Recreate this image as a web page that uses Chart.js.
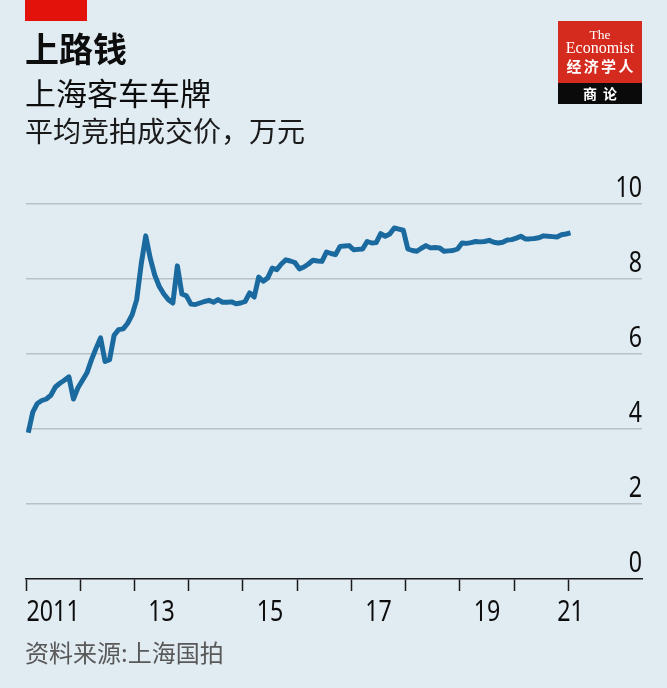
<!DOCTYPE html>
<html>
<head>
<meta charset="utf-8">
<script src="https://cdn.jsdelivr.net/npm/chart.js@4.4.1/dist/chart.umd.min.js"></script>
<style>
html,body{margin:0;padding:0;background:#e0ebf2;}
canvas{display:block;}
</style>
</head>
<body>
<canvas id="c" width="667" height="688"></canvas>
<script>
// ---- text ----
const titleText = '上路钱';
const subtitleText = '上海客车车牌';
const unitText = '平均竞拍成交价，万元';
const sourceText = '资料来源:上海国拍';

// ---- data: average auction price of Shanghai car plates, 10k yuan, monthly ----
const years = [2011, 2012, 2013, 2014, 2015, 2016, 2017, 2018, 2019, 2020, 2021];
const price2011 = [3.90, 4.45, 4.68, 4.76, 4.80, 4.90, 5.12, 5.22, 5.30, 5.39, 4.80, 5.10];
const price2012 = [5.30, 5.50, 5.85, 6.15, 6.43, 5.80, 5.85, 6.50, 6.65, 6.67, 6.82, 7.05];
const price2013 = [7.45, 8.40, 9.15, 8.55, 8.10, 7.80, 7.60, 7.45, 7.36, 8.35, 7.60, 7.55];
const price2014 = [7.33, 7.32, 7.36, 7.40, 7.43, 7.38, 7.45, 7.38, 7.38, 7.39, 7.34, 7.36];
const price2015 = [7.40, 7.63, 7.52, 8.05, 7.94, 8.03, 8.29, 8.25, 8.40, 8.51, 8.48, 8.44];
const price2016 = [8.27, 8.32, 8.40, 8.50, 8.48, 8.47, 8.72, 8.68, 8.65, 8.87, 8.88, 8.89];
const price2017 = [8.78, 8.79, 8.80, 9.00, 8.96, 8.97, 9.21, 9.14, 9.20, 9.36, 9.33, 9.30];
const price2018 = [8.80, 8.76, 8.74, 8.82, 8.89, 8.83, 8.84, 8.83, 8.74, 8.75, 8.76, 8.80];
const price2019 = [8.96, 8.95, 8.97, 9.00, 8.99, 9.00, 9.03, 8.98, 8.96, 8.98, 9.04, 9.05];
const price2020 = [9.09, 9.14, 9.07, 9.07, 9.08, 9.10, 9.15, 9.14, 9.13, 9.12, 9.18, 9.20];
const price2021 = [9.23];

// ---- axes ----
const yTickValues = [0, 2, 4, 6, 8, 10];
const xTickYears = [2011, 2012, 2013, 2014, 2015, 2016, 2017, 2018, 2019, 2020, 2021];
const xLabelTexts = ['2011', '13', '15', '17', '19', '21'];
const xLabelYears = [2011, 2013, 2015, 2017, 2019, 2021];

// ---- build points (mid-month positions) ----
const priceByYear = [price2011, price2012, price2013, price2014, price2015, price2016,
                     price2017, price2018, price2019, price2020, price2021];
const points = [];
priceByYear.forEach((arr, i) => {
  arr.forEach((v, m) => points.push({ x: years[i] + (m + 0.5) / 12, y: v }));
});

const BG = '#e0ebf2';
const NUM_FONT = '29px "Noto Sans", "Liberation Sans", sans-serif';
const NUM_SQUEEZE = 0.8;
const CJK = '"Noto Sans CJK SC", "Noto Sans", sans-serif';

function squeezedText(ctx, text, x, y, align) {
  ctx.save();
  ctx.translate(x, y);
  ctx.scale(NUM_SQUEEZE, 1);
  ctx.textAlign = align;
  ctx.fillText(text, 0, 0);
  ctx.restore();
}

const deco = {
  id: 'deco',
  beforeDraw(chart) {
    const ctx = chart.ctx;
    ctx.save();
    ctx.fillStyle = BG;
    ctx.fillRect(0, 0, chart.width, chart.height);
    ctx.restore();
  },
  afterDraw(chart) {
    const ctx = chart.ctx;
    const xs = chart.scales.x;
    const ys = chart.scales.y;
    ctx.save();
    // red tag
    ctx.fillStyle = '#e3120b';
    ctx.fillRect(25, 0, 62, 21);

    // titles
    ctx.textAlign = 'left';
    ctx.textBaseline = 'alphabetic';
    ctx.fillStyle = '#0d0d0d';
    ctx.font = 'bold 34px ' + CJK;
    ctx.fillText(titleText, 25, 62);
    ctx.font = '31px ' + CJK;
    ctx.fillText(subtitleText, 25, 105);
    ctx.fillStyle = '#1a1a1a';
    ctx.font = '28px ' + CJK;
    ctx.fillText(unitText, 25, 142);

    // source
    ctx.fillStyle = '#595959';
    ctx.font = '24px ' + CJK;
    ctx.fillText(sourceText, 25, 662);

    // y tick labels: right-aligned, sitting above each gridline
    ctx.fillStyle = '#0d0d0d';
    ctx.font = NUM_FONT;
    yTickValues.forEach(v => {
      squeezedText(ctx, String(v), chart.chartArea.right, ys.getPixelForValue(v) - 7, 'right');
    });

    // x labels (centred on the year, last on the final data month)
    xLabelTexts.forEach((t, i) => {
      const last = i === xLabelTexts.length - 1;
      const v = xLabelYears[i] + (last ? 0.5 / 12 : 0.5);
      squeezedText(ctx, t, xs.getPixelForValue(v), 621, 'center');
    });

    // logo
    ctx.fillStyle = '#d52b1e';
    ctx.fillRect(558, 21, 84, 62);
    ctx.fillStyle = '#0a0a0a';
    ctx.fillRect(558, 83, 84, 21);
    ctx.fillStyle = '#ffffff';
    ctx.textAlign = 'center';
    ctx.font = '13.5px "Liberation Serif", "DejaVu Serif", serif';
    ctx.fillText('The', 600, 38.5);
    ctx.font = '16px "Liberation Serif", "DejaVu Serif", serif';
    ctx.fillText('Economist', 600, 52.5);
    ctx.font = 'bold 15px ' + CJK;
    const cn = ['经', '济', '学', '人'];
    cn.forEach((c, i) => ctx.fillText(c, 574 + i * 17.3, 72));
    ctx.font = 'bold 14px ' + CJK;
    ctx.fillText('商', 590, 99);
    ctx.fillText('论', 610, 99);
    ctx.restore();
  }
};

new Chart(document.getElementById('c'), {
  type: 'line',
  data: {
    datasets: [{
      data: points,
      borderColor: '#1b6a9f',
      borderWidth: 5,
      pointRadius: 0,
      tension: 0,
      borderJoinStyle: 'round',
      borderCapStyle: 'butt',
      fill: false
    }]
  },
  options: {
    responsive: false,
    animation: false,
    devicePixelRatio: 1,
    layout: { padding: { left: 26, right: 25, top: 204, bottom: 97 } },
    plugins: { legend: { display: false }, tooltip: { enabled: false }, title: { display: false } },
    scales: {
      x: {
        type: 'linear',
        min: 2011,
        max: 2022.36,
        afterBuildTicks: s => { s.ticks = xTickYears.map(v => ({ value: v })); },
        ticks: { display: false },
        grid: {
          display: true, drawOnChartArea: false, drawTicks: true,
          tickLength: 12, tickWidth: 1.5, tickColor: '#1a1a1a', color: '#1a1a1a'
        },
        border: { display: true, color: '#1a1a1a', width: 1.5 }
      },
      y: {
        type: 'linear',
        position: 'right',
        min: 0,
        max: 10,
        afterBuildTicks: s => { s.ticks = yTickValues.map(v => ({ value: v })); },
        ticks: { display: false },
        grid: {
          drawTicks: false, lineWidth: 1.5,
          color: c => (c.tick && c.tick.value === 0) ? 'rgba(0,0,0,0)' : '#b7c1c7'
        },
        border: { display: false }
      }
    }
  },
  plugins: [deco]
});
</script>
</body>
</html>
